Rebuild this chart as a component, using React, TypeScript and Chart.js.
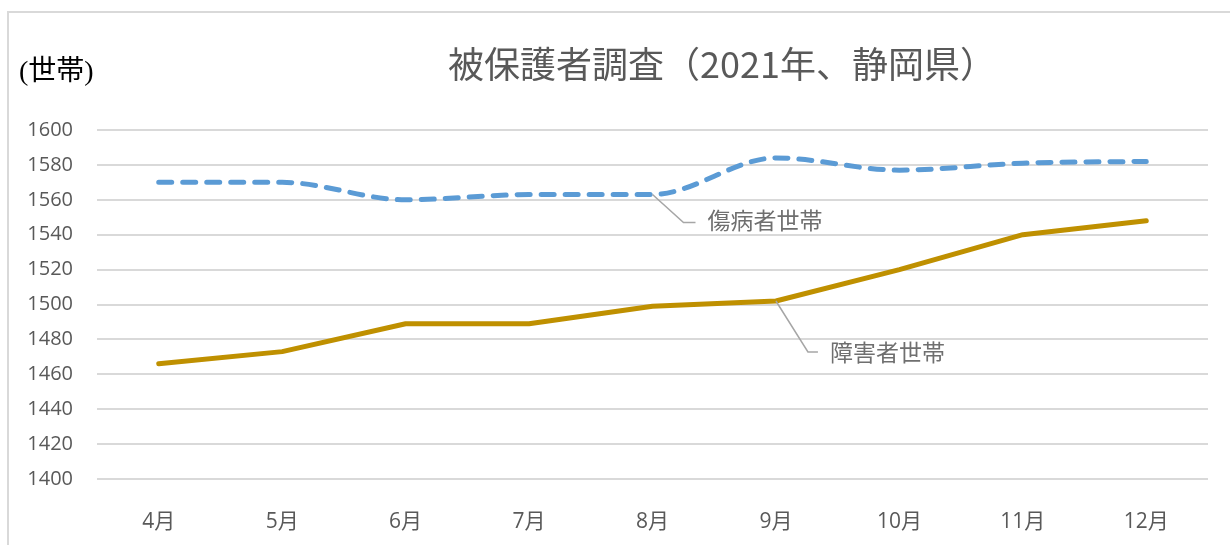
import React, { useEffect, useRef } from "react";
import { Chart, registerables } from "chart.js";

Chart.register(...registerables);

const months = ["4月", "5月", "6月", "7月", "8月", "9月", "10月", "11月", "12月"];
const sickHouseholds = [1570, 1570, 1560, 1563, 1563, 1584, 1577, 1581, 1582];
const disabledHouseholds = [1466, 1473, 1489, 1489, 1499, 1502, 1520, 1540, 1548];
const seriesNames = ["傷病者世帯", "障害者世帯"];
const labelAnchorIndex = [4, 5];
const chartTitle = "被保護者調査（2021年、静岡県）";
const unitLabel = "(世帯)";
const yMin = 1400;
const yMax = 1600;
const yStep = 20;

const CJK = '"Noto Sans CJK JP"';

const decorPlugin = {
  id: "decor",
  beforeDraw(chart: any) {
    const ctx = chart.ctx;
    ctx.save();
    ctx.fillStyle = "#ffffff";
    ctx.fillRect(0, 0, chart.width, chart.height);
    ctx.strokeStyle = "#d9d9d9";
    ctx.lineWidth = 2;
    ctx.beginPath();
    ctx.moveTo(8, chart.height);
    ctx.lineTo(8, 12);
    ctx.lineTo(chart.width, 12);
    ctx.stroke();
    ctx.restore();
  },
  afterDraw(chart: any) {
    const ctx = chart.ctx;
    ctx.save();
    // title
    ctx.fillStyle = "#595959";
    ctx.font = `36px ${CJK}`;
    ctx.textAlign = "center";
    ctx.textBaseline = "middle";
    ctx.fillText(chartTitle, 722, 64);
    // unit
    ctx.fillStyle = "#000000";
    ctx.font = `28px "Liberation Serif", ${CJK}`;
    ctx.textAlign = "left";
    ctx.fillText(unitLabel, 19, 73);
    // series labels with leader lines
    const offsets = [
      { cx: 31, cy: 28, ex: 43, tx: 55, ty: 26 },
      { cx: 32, cy: 51, ex: 42, tx: 54, ty: 51 },
    ];
    seriesNames.forEach((name, i) => {
      const meta = chart.getDatasetMeta(i);
      const pt = meta.data[labelAnchorIndex[i]];
      if (!pt) return;
      const o = offsets[i];
      ctx.strokeStyle = "#a6a6a6";
      ctx.lineWidth = 1.5;
      ctx.beginPath();
      ctx.moveTo(pt.x, pt.y);
      ctx.lineTo(pt.x + o.cx, pt.y + o.cy);
      ctx.lineTo(pt.x + o.ex, pt.y + o.cy);
      ctx.stroke();
      ctx.fillStyle = "#6f6f6f";
      ctx.font = `23px ${CJK}`;
      ctx.textAlign = "left";
      ctx.textBaseline = "middle";
      ctx.fillText(name, pt.x + o.tx, pt.y + o.ty);
    });
    ctx.restore();
  },
};

export default function App() {
  const canvasRef = useRef<HTMLCanvasElement | null>(null);

  useEffect(() => {
    if (!canvasRef.current) return;
    const chart = new Chart(canvasRef.current, {
      type: "line",
      data: {
        labels: months,
        datasets: [
          {
            label: seriesNames[0],
            data: sickHouseholds,
            borderColor: "#5b9bd5",
            borderWidth: 5,
            borderDash: [13, 11],
            borderCapStyle: "round",
            borderJoinStyle: "round",
            cubicInterpolationMode: "monotone",
            pointRadius: 0,
            fill: false,
          },
          {
            label: seriesNames[1],
            data: disabledHouseholds,
            borderColor: "#bf9000",
            borderWidth: 5,
            borderCapStyle: "round",
            borderJoinStyle: "round",
            tension: 0,
            pointRadius: 0,
            fill: false,
          },
        ],
      },
      options: {
        responsive: false,
        animation: false,
        devicePixelRatio: 1,
        layout: { padding: { left: 0, top: 130, right: 22, bottom: 0 } },
        plugins: {
          legend: { display: false },
          title: { display: false },
          tooltip: { enabled: false },
        },
        scales: {
          x: {
            offset: true,
            grid: { display: false },
            border: { display: false },
            ticks: {
              color: "#595959",
              font: { family: `"Open Sans", ${CJK}`, size: 21 },
              padding: 22,
              maxRotation: 0,
            },
            afterFit: (axis: any) => {
              axis.height = 66;
            },
          },
          y: {
            min: yMin,
            max: yMax,
            grid: { color: "#d9d9d9", lineWidth: 2, drawTicks: false },
            border: { display: false },
            ticks: {
              stepSize: yStep,
              color: "#595959",
              font: { family: '"Open Sans"', size: 20 },
              padding: 24,
              callback: (v: any) => String(v),
            },
            afterFit: (axis: any) => {
              axis.width = 97;
            },
          },
        },
      },
      plugins: [decorPlugin],
    });
    return () => chart.destroy();
  }, []);

  return (
    <div style={{ position: "fixed", left: 0, top: 0, width: 1230, height: 545, overflow: "hidden" }}>
      <canvas ref={canvasRef} width={1230} height={545} style={{ display: "block" }} />
    </div>
  );
}
